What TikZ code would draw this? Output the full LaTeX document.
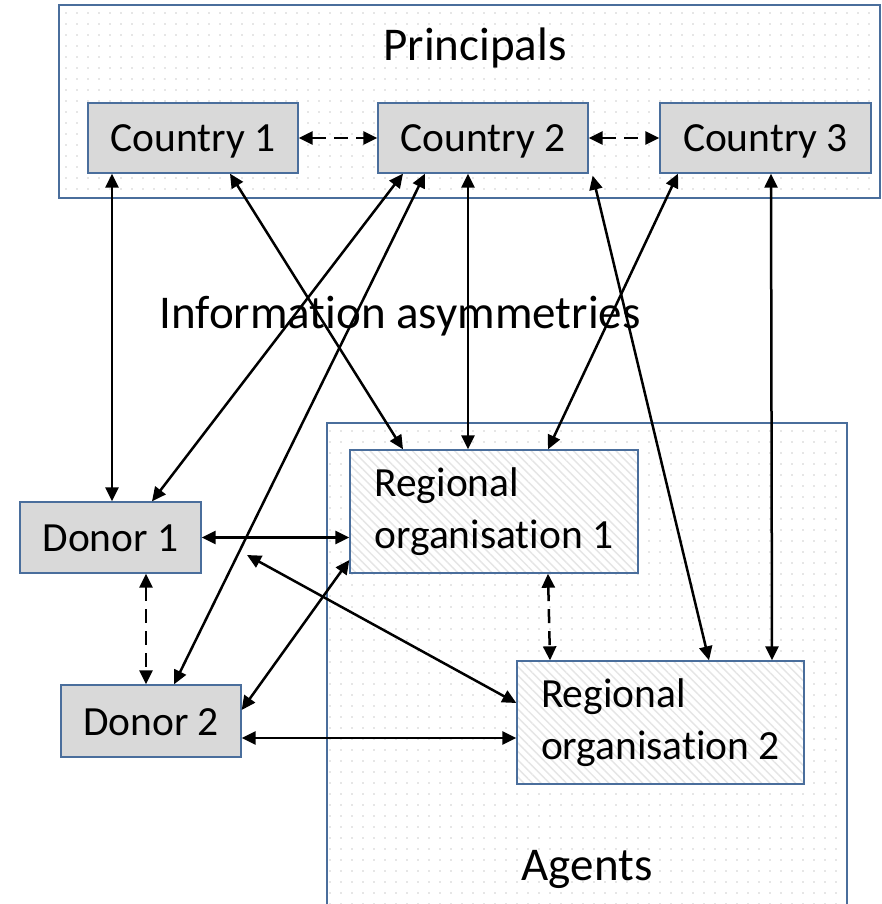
\documentclass[tikz,border=0pt]{standalone}
\usepackage{fontspec}
\setmainfont[Ligatures={NoCommon,NoRequired,NoContextual},RawFeature={-liga;-clig;-calt;-dlig}]{Carlito}
\usetikzlibrary{arrows.meta,patterns.meta,calc}
\definecolor{bordc}{HTML}{4A6E9C}
\definecolor{boxg}{HTML}{D9D9D9}
\newcommand{\nolig}{\kern0pt }
\tikzset{
  group/.style={line width=1.2pt, draw=bordc, inner sep=0pt,
    pattern={Dots[distance=11pt,radius=0.9pt]}, pattern color=black!20},
  box/.style={draw=bordc, line width=1.3pt, fill=boxg, inner sep=0pt,
    text height=30pt, text depth=2pt,
    font=\fontsize{41.5}{52}\selectfont},
  rbox/.style={draw=bordc, line width=1.3pt, inner sep=0pt, align=left,
    preaction={fill=white},
    pattern={Lines[angle=-45,distance=6pt,line width=1.4pt]}, pattern color=black!10,
    font=\fontsize{41.5}{52}\selectfont},
  biglabel/.style={anchor=base, inner sep=0pt, font=\fontsize{47}{56}\selectfont},
  conn/.style={line width=2.5pt,
    {Triangle[length=14pt,width=13pt]}-{Triangle[length=14pt,width=13pt]}},
  dconn/.style={conn, dash pattern=on 14pt off 8pt},
}
\begin{document}
\begin{tikzpicture}[x=1pt,y=-1pt]
\useasboundingbox (0,0) rectangle (881,904);
% containers
\node[group, minimum width=821pt, minimum height=193pt] (pbox) at (469.5,101.5) {};
\fill[pattern={Dots[distance=11pt,radius=0.9pt]}, pattern color=black!20] (327,423) rectangle (847,904);
\coordinate (abl) at (327,904);
\coordinate (atl) at (327,423);
\coordinate (atr) at (847,423);
\coordinate (abr) at (847,904);
\draw[line width=1.2pt, draw=bordc] (abl) -- (atl) -- (atr) -- (abr);
% labels
\node[biglabel] (prin) at (475,61) {Principals};
\node[biglabel] (info) at (400,328) {Informat\nolig ion asymmetries};
\node[biglabel] (agents) at (587,880) {Agents};
% boxes
\node[box, minimum width=210pt, minimum height=70pt] (c1) at (193,138) {Country 1};
\node[box, minimum width=210pt, minimum height=70pt] (c2) at (483,138) {Country 2};
\node[box, minimum width=211pt, minimum height=70pt] (c3) at (765.5,138) {Country 3};
\node[box, minimum width=181pt, minimum height=71pt] (d1) at (110.5,537.5) {Donor 1};
\node[box, minimum width=180pt, minimum height=72pt] (d2) at (151,721) {Donor 2};
\node[rbox, minimum width=288pt, minimum height=123pt] (r1) at (494,511.5) {Regional\\organisat\nolig ion 1};
\node[rbox, minimum width=287pt, minimum height=123pt] (r2) at (660.5,722.5) {Regional\\organisat\nolig ion 2};
% connectors
\draw[dconn] (c1.east) -- (c2.west);
\draw[dconn] (c2.east) -- (c3.west);
\draw[conn] ([xshift=-81pt]c1.south) -- ([xshift=1.5pt]d1.north);
\draw[conn] ([xshift=37pt]c1.south) -- ([xshift=-91pt]r1.north);
\draw[conn] ([xshift=-80pt]c2.south) -- ([xshift=41.5pt]d1.north);
\draw[conn] ([xshift=-58pt]c2.south) -- ([xshift=23pt]d2.north);
\draw[conn] ([xshift=-15pt]c2.south) -- ([xshift=-26pt]r1.north);
\draw[conn] ([xshift=4pt,yshift=-2pt]c2.south east) -- ([xshift=48.5pt]r2.north);
\draw[conn] ([xshift=-87.5pt]c3.south) -- ([xshift=54pt]r1.north);
\draw[conn] ([xshift=5.5pt]c3.south) -- ([xshift=111.5pt]r2.north);
\draw[conn] (d1.east) -- (d1.east -| r1.west);
\draw[dconn] ([xshift=35.5pt]d1.south) -- ([xshift=-5pt]d2.north);
\draw[conn] ([yshift=11pt]d2.east) -- ([yshift=-48.5pt]r1.west);
\coordinate (fe) at (247,555);
\draw[conn] (fe) -- ([yshift=19.5pt]r2.west);
\coordinate (d2e) at ([yshift=-17pt]d2.east);
\draw[conn] (d2e) -- (d2e -| r2.west);
\draw[dconn] ([xshift=54pt]r1.south) -- ([xshift=-110.5pt]r2.north);
\end{tikzpicture}
\end{document}
